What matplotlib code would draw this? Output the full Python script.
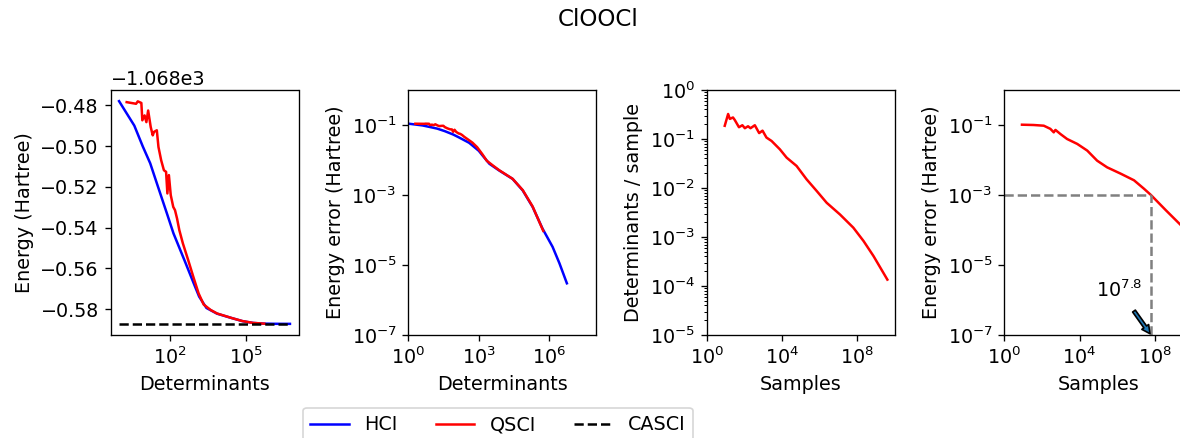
import numpy as np
import matplotlib.pyplot as plt
from matplotlib.ticker import MultipleLocator

plt.rcParams['font.size'] = 11.5

# CASCI reference energy (Hartree)
e_casci = -1068.5872

# HCI: determinants vs energy error
hci_dets = [1, 4, 8.7, 17, 36, 81, 141, 389, 1000, 1450, 2820, 7400,
            27500, 74000, 195000, 513000, 1.38e6, 2.7e6, 5.6e6]
hci_err = [0.1093, 0.0973, 0.0870, 0.0788, 0.0666, 0.0535, 0.0444, 0.0310,
           0.0183, 0.0134, 0.0078, 0.0050, 0.00288, 0.00135, 0.000457,
           0.00011, 3.3e-5, 1.12e-5, 3.0e-6]

# QSCI: determinants vs energy error
qsci_dets = [2, 4.7, 5.5, 7.6, 8.3, 10.2, 12, 14.1, 17.8, 21.4, 24, 31, 36,
             46, 59, 72, 81, 93, 110, 138, 162, 195, 240, 331, 537, 851,
             1380, 2190, 4170, 7410, 27500, 74100, 195000, 550000]
qsci_err = [0.1088, 0.1080, 0.1092, 0.1084, 0.0999, 0.1023, 0.0990, 0.1047,
            0.0966, 0.0925, 0.0942, 0.0950, 0.0868, 0.0803, 0.0754, 0.0746,
            0.0640, 0.0730, 0.0632, 0.0574, 0.0558, 0.0517, 0.0460, 0.0395,
            0.0313, 0.0232, 0.0150, 0.0095, 0.0068, 0.0051, 0.0029, 0.00138,
            0.00047, 9.5e-5]

# QSCI: samples vs determinants per sample
samples = [9.1, 13.8, 17, 25, 31, 52, 79, 107, 158, 214, 363, 617, 933, 1510,
           2820, 7760, 17800, 60300, 204000, 708000, 2.4e6, 1.23e7, 6.3e7,
           2.19e8, 7.41e8, 4.07e9]
dets_per_sample = [0.186, 0.324, 0.257, 0.275, 0.245, 0.174, 0.191, 0.166,
                   0.182, 0.166, 0.191, 0.132, 0.148, 0.107, 0.0912, 0.0617,
                   0.0417, 0.0282, 0.0151, 0.0087, 0.0050, 0.00288, 0.00155,
                   0.00083, 0.00041, 0.000135]

# QSCI: samples vs energy error
samples_e = [8.7, 36, 126, 282, 427, 525, 977, 2190, 7590, 25700, 87100,
             295000, 1.55e6, 7.94e6, 2.69e7, 6.31e7, 4.0e8, 2.45e9, 4.07e9]
samples_err = [0.102, 0.100, 0.0955, 0.0776, 0.0617, 0.0724, 0.0550, 0.0398,
               0.0288, 0.0186, 0.00955, 0.00617, 0.00407, 0.00263, 0.00151,
               0.00100, 0.000363, 0.000138, 0.000110]

target_err = 1e-3
target_samples = 10**7.8

hci_energy = e_casci + np.array(hci_err)
qsci_energy = e_casci + np.array(qsci_err)

W, H = 1180, 438
fig = plt.figure(figsize=(W / 120, H / 120), dpi=120)


def box(left):
    return [left / W, 103 / H, 188 / W, 245 / H]


ax1 = fig.add_axes(box(110.5))
ax2 = fig.add_axes(box(408.3))
ax3 = fig.add_axes(box(706.7))
ax4 = fig.add_axes(box(1004.3))

# energies
l1, = ax1.plot(hci_dets, hci_energy, color='blue', label='HCI')
l2, = ax1.plot(qsci_dets, qsci_energy, color='red', label='QSCI')
l3, = ax1.plot([hci_dets[0], hci_dets[-1]], [e_casci, e_casci], 'k--', label='CASCI')
ax1.set_xscale('log')
ax1.yaxis.set_major_locator(MultipleLocator(0.02))
ax1.set_xlabel('Determinants')
ax1.set_ylabel('Energy (Hartree)')

# energy errors
ax2.plot(hci_dets, hci_err, color='blue')
ax2.plot(qsci_dets, qsci_err, color='red')
ax2.set_xscale('log')
ax2.set_yscale('log')
ax2.set_xlim(1, 1e8)
ax2.set_ylim(1e-7, 1)
ax2.set_xlabel('Determinants')
ax2.set_ylabel('Energy error (Hartree)')

# determinants per sample
ax3.plot(samples, dets_per_sample, color='red')
ax3.set_xscale('log')
ax3.set_yscale('log')
ax3.set_xlim(1, 1e10)
ax3.set_ylim(1e-5, 1)
ax3.set_xlabel('Samples')
ax3.set_ylabel('Determinants / sample')

# error vs samples
ax4.plot(samples_e, samples_err, color='red')
ax4.plot([1, target_samples], [target_err, target_err], '--', color='gray')
ax4.plot([target_samples, target_samples], [1e-7, target_err], '--', color='gray')
ax4.set_xscale('log')
ax4.set_yscale('log')
ax4.set_xlim(1, 1e10)
ax4.set_ylim(1e-7, 1)
ax4.set_xlabel('Samples')
ax4.set_ylabel('Energy error (Hartree)')
ax4.text(10**6.12, 10**-5.73, r'$10^{7.8}$', ha='center', va='center')
ax4.annotate('', xy=(target_samples, 1e-7), xytext=(10**6.85, 10**-6.28),
             arrowprops=dict(facecolor='C0', shrink=0.05, width=2,
                             headwidth=5, headlength=5))

fig.text(598 / W, (H - 19) / H, 'ClOOCl', ha='center', va='center', fontsize='large')
fig.legend(handles=[l1, l2, l3], loc='upper center', ncol=3,
           bbox_to_anchor=(498 / W, (H - 398) / H))

fig.savefig('out.png', dpi=120)
